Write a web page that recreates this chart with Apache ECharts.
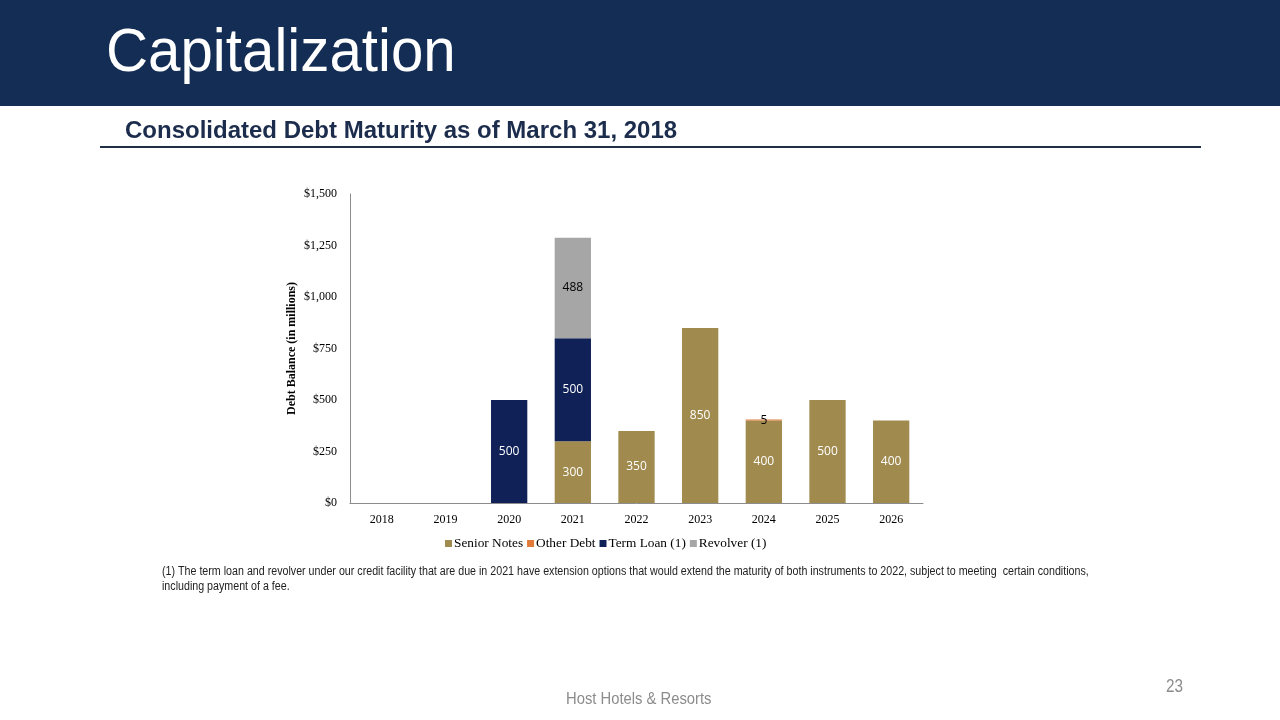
<!DOCTYPE html>
<html><head><meta charset="utf-8">
<script src="https://cdn.jsdelivr.net/npm/echarts@6/dist/echarts.min.js"></script>
<style>html,body{margin:0;padding:0;background:#fff}#c{width:1280px;height:720px}</style>
</head><body><div id="c"></div>
<script>
const categories = ['2018','2019','2020','2021','2022','2023','2024','2025','2026'];
const seniorNotes = [null,null,null,300,350,850,400,500,400];
const otherDebt   = [null,null,null,null,null,null,5,null,null];
const termLoan    = [null,null,500,500,null,null,null,null,null];
const revolver    = [null,null,null,488,null,null,null,null,null];

const chart = echarts.init(document.getElementById('c'));
const lblFont = '"Open Sans", "DejaVu Sans", sans-serif';
function ser(name, data, color, lblColor){
  return {name, type:'bar', stack:'d', data, barWidth:'57%',
    itemStyle:{color},
    label:{show:true, position:'inside', color:lblColor, fontFamily:lblFont, fontSize:12}};
}
chart.setOption({
  animation:false,
  graphic:[
    {type:'rect', shape:{x:0,y:0,width:1280,height:106}, style:{fill:'#132d54'}},
    {type:'text', x:106, y:24, scaleX:0.955, style:{text:'Capitalization', fill:'#fff', font:'61px "Liberation Sans", Arial, sans-serif'}},
    {type:'text', x:125, y:119, style:{text:'Consolidated Debt Maturity as of March 31, 2018', fill:'#1b2c4c', font:'bold 24px "Liberation Sans", Arial, sans-serif'}},
    {type:'rect', shape:{x:100,y:146,width:1101,height:2}, style:{fill:'#1f2f44'}},
    {type:'text', x:162, y:564, scaleX:0.89, style:{text:'(1) The term loan and revolver under our credit facility that are due in 2021 have extension options that would extend the maturity of both instruments to 2022, subject to meeting  certain conditions,\nincluding payment of a fee.', fill:'#222', font:'12px "Liberation Sans", Arial, sans-serif', lineHeight:15}},
    {type:'text', x:1166, y:678, scaleX:0.85, style:{text:'23', fill:'#8c8c8c', font:'18px "Liberation Sans", Arial, sans-serif'}},
    {type:'text', x:566, y:691, scaleX:0.87, style:{text:'Host Hotels & Resorts', fill:'#8c8c8c', font:'17px "Liberation Sans", Arial, sans-serif'}}
  ],
  grid:{left:350, right:357, top:194, bottom:217},
  legend:{top:532, left:440, itemWidth:7, itemHeight:7, itemGap:4, icon:'rect',
    textStyle:{fontFamily:'"Liberation Serif", "Times New Roman", serif', fontSize:13.3, color:'#000', padding:[0,0,0,-3]},
    data:['Senior Notes','Other Debt','Term Loan (1)','Revolver (1)']},
  xAxis:{type:'category', data:categories,
    axisLine:{lineStyle:{color:'#8c8c8c'}}, axisTick:{show:false},
    axisLabel:{color:'#000', fontFamily:'"Liberation Serif", serif', fontSize:12, margin:11}},
  yAxis:{type:'value', min:0, max:1500, interval:250,
    name:'Debt Balance (in millions)', nameLocation:'middle', nameGap:52, nameRotate:90,
    nameTextStyle:{fontFamily:'"Liberation Serif", serif', fontWeight:'bold', fontSize:12, color:'#000'},
    axisLine:{show:true, lineStyle:{color:'#8c8c8c'}}, axisTick:{show:false}, splitLine:{show:false},
    axisLabel:{color:'#000', fontFamily:'"Liberation Serif", serif', fontSize:12, margin:13,
      formatter:v=>'$'+v.toLocaleString('en-US')}},
  series:[
    ser('Senior Notes', seniorNotes, '#a08a4e', '#fff'),
    ser('Other Debt', otherDebt, '#e07b39', '#000'),
    ser('Term Loan (1)', termLoan, '#0f2157', '#fff'),
    ser('Revolver (1)', revolver, '#a6a6a6', '#000')
  ]
});
</script></body></html>
